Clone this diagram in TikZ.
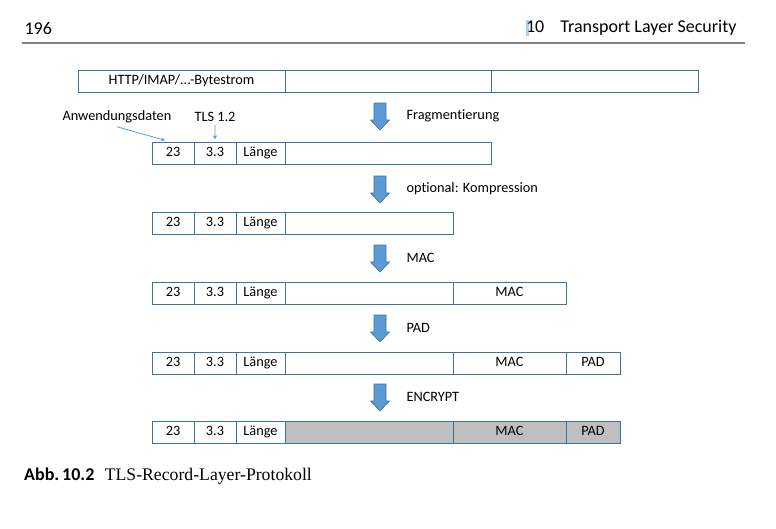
\documentclass[tikz,border=0pt]{standalone}
\usepackage{fontspec}
\setmainfont{Carlito}[Ligatures=NoCommon]
\newfontfamily\capserif{Liberation Serif}
\usetikzlibrary{positioning,arrows.meta}
\definecolor{boxblue}{RGB}{65,113,156}
\definecolor{arrowblue}{RGB}{91,155,213}
\definecolor{cryptgray}{RGB}{191,191,191}

\begin{document}
\begin{tikzpicture}[x=1pt,y=-1pt,
    cell/.style={draw=boxblue, line width=0.8pt, minimum height=22pt, inner sep=0pt, text height=9.5pt, text depth=3pt, font=\fontsize{14.3}{16}\selectfont},
    crypt/.style={cell, fill=cryptgray},
    label/.style={anchor=west, font=\fontsize{14.3}{16}\selectfont},
    blockarrow/.style={fill=arrowblue, draw=boxblue, line width=0.6pt},
    pointer/.style={draw=arrowblue, line width=0.8pt, -{Stealth[length=4pt,width=4pt]}}]
    \useasboundingbox (0,0) rectangle (776,528);
    % Page header
    \node[anchor=west, font=\fontsize{18}{20}\selectfont] (pagenum) at (21,28) {196};
    \node[anchor=east, font=\fontsize{18}{20}\selectfont] (chapter) at (740,28) {10\hspace{0.9em}Transport Layer Security};
    \fill[arrowblue, opacity=0.5] (526,20) rectangle (529,36);
    \draw[gray, line width=2pt] (22,43) -- (745,43);
    % Byte stream
    \node[cell, minimum width=207pt] (s1) at (181.5,81) {HTTP/IMAP/...-Bytestrom};
    \node[cell, minimum width=206pt] (s2) at (388,81) {};
    \node[cell, minimum width=207pt] (s3) at (594.5,81) {};
    % Record header of every row
    \foreach \r/\y in {1/153.7, 2/223.5, 3/293.5, 4/363.3, 5/432.5} {
        \node[cell, minimum width=42pt] (type\r) at (173,\y) {23};
        \node[cell, minimum width=42pt] (ver\r) at (215,\y) {3.3};
        \node[cell, minimum width=49pt] (len\r) at (260.5,\y) {Länge};
    }
    % Payload, MAC and padding
    \node[cell, minimum width=206pt] (data1) at (388,153.7) {};
    \foreach \r/\y in {2/223.5, 3/293.5, 4/363.3} {
        \node[cell, minimum width=168pt] (data\r) at (369,\y) {};
    }
    \foreach \r/\y in {3/293.5, 4/363.3} {
        \node[cell, minimum width=113pt] (mac\r) at (509.5,\y) {MAC};
    }
    \node[cell, minimum width=54pt] (pad4) at (593,363.3) {PAD};
    \node[crypt, minimum width=168pt] (data5) at (369,432.5) {};
    \node[crypt, minimum width=113pt] (mac5) at (509.5,432.5) {MAC};
    \node[crypt, minimum width=54pt] (pad5) at (593,432.5) {PAD};
    % Processing steps
    \foreach \yt/\txt [count=\i] in {103/Fragmentierung, 176/{optional: Kompression}, 245/MAC, 315/PAD, 384/ENCRYPT} {
        \draw[blockarrow] (374,\yt) -- (386,\yt) -- (386,\yt+17) -- (389.5,\yt+17) -- (380,\yt+27) -- (370.5,\yt+17) -- (374,\yt+17) -- cycle;
        \node[label] (op\i) at (403,\yt+13) {\txt};
    }
    % Annotations
    \node[label] (appdata) at (59,117) {Anwendungsdaten};
    \node[label] (tlsver) at (191,117) {TLS 1.2};
    \draw[pointer] (appdata.south) -- ([xshift=-8pt,yshift=2pt]type1.north);
    \draw[pointer] (tlsver.south) -- ([yshift=3pt]ver1.north);
    % Caption
    \node[anchor=base west, inner sep=0pt, font=\fontsize{18}{20}\selectfont\bfseries] (abb) at (24,480) {Abb.\,10.2};
    \node[anchor=base west, inner sep=0pt, font=\capserif\fontsize{17.7}{20}\selectfont] (captext) at ([xshift=10pt]abb.base east) {TLS-Record-Layer-Protokoll};
\end{tikzpicture}
\end{document}
